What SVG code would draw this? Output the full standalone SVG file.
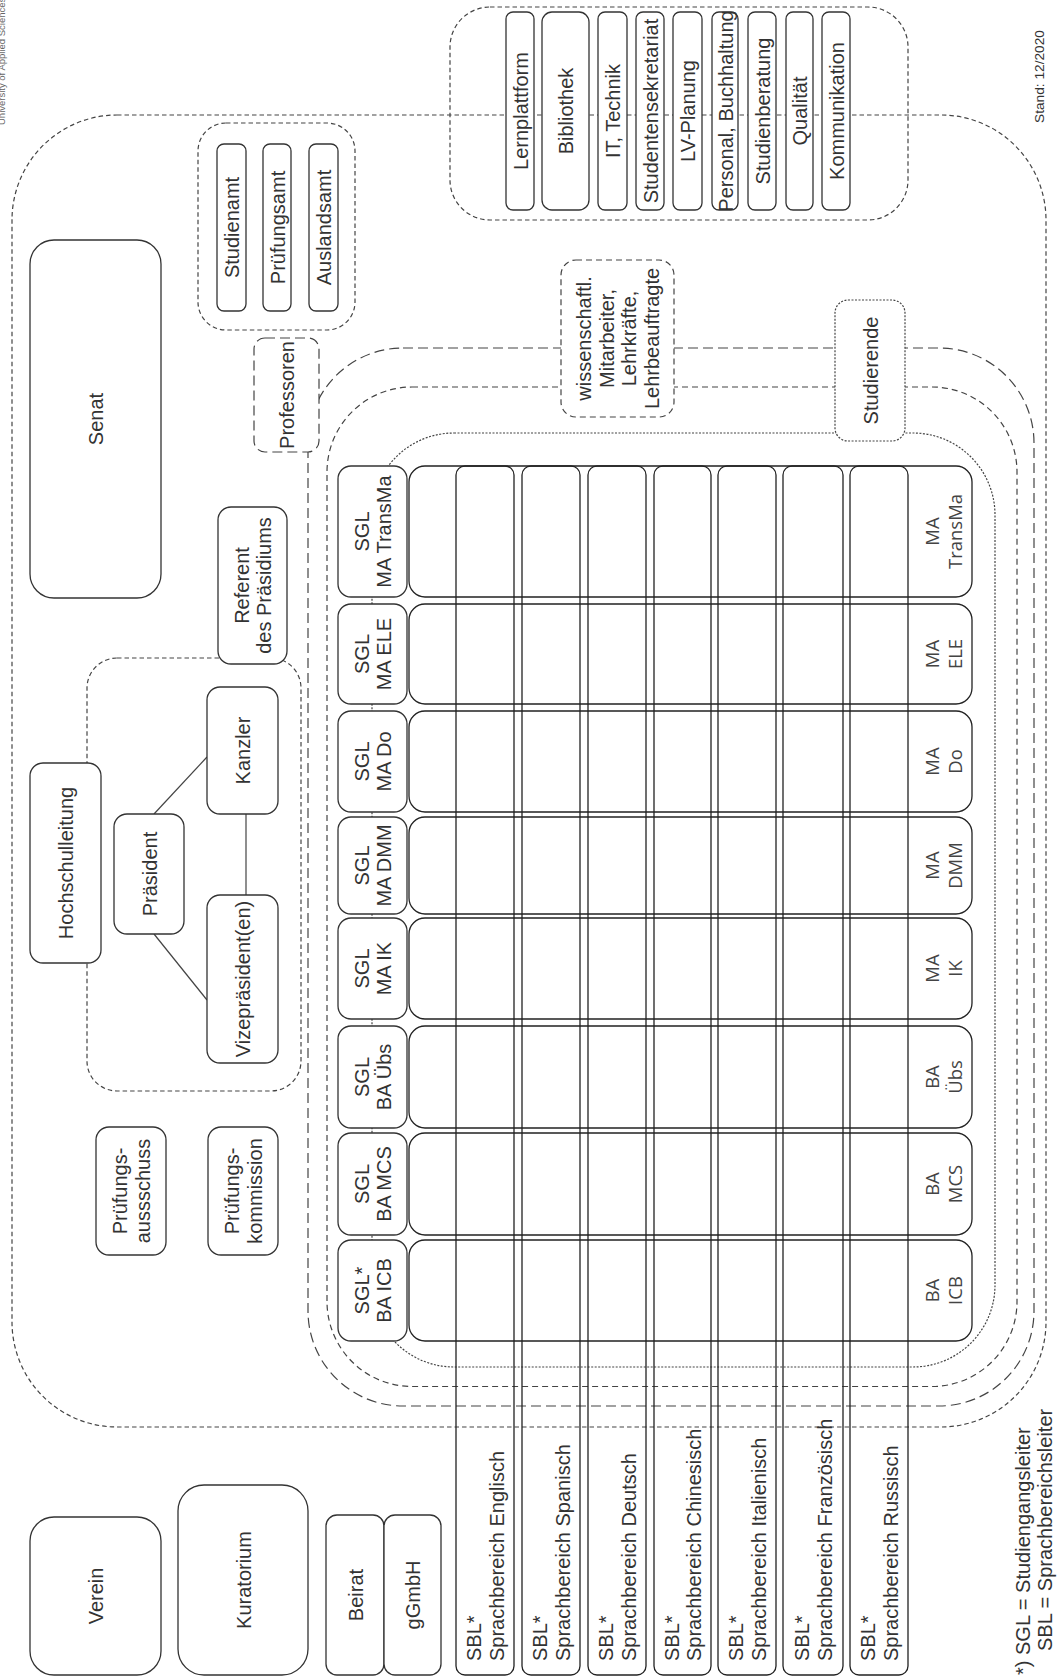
<svg xmlns="http://www.w3.org/2000/svg" width="1057" height="1677" viewBox="0 0 1057 1677">
<defs>
<style>
.box{fill:#fff;stroke:#333;stroke-width:1.3}
.grid{fill:none;stroke:#222;stroke-width:1.3}
.cont{fill:none;stroke:#444;stroke-width:1.2}
.d1{stroke-dasharray:4.5 3}
.d2{stroke-dasharray:10 5}
.d3{stroke-dasharray:6 4}
.d4{stroke-dasharray:2 1.5}
.wf{fill:#fff}
.ln{stroke:#444;stroke-width:1.2;fill:none}
text{font-family:"Liberation Sans",Arial,sans-serif;font-size:20px;fill:#333}
text.c{text-anchor:middle}
text.p{font-family:"Open Sans","DejaVu Sans",sans-serif;font-size:18.5px;fill:#444;text-anchor:middle}
text.s{font-size:13.7px}
</style>
</defs>
<rect width="1057" height="1677" fill="#fff"/>

<text transform="translate(5,125) rotate(-90)" style="fill:#666;font-size:9.5px">University of Applied Sciences</text>

<g id="containers">
<rect id="hochschule" class="cont d1" x="12" y="115" width="1034" height="1312" rx="105"/>
<rect id="services-group" class="cont d1" x="450" y="7" width="458" height="213" rx="40"/>
<rect id="professoren-group" class="cont d2" x="308" y="348" width="726" height="1058" rx="95"/>
<rect id="mitarbeiter-group" class="cont d3" x="327" y="387" width="690" height="999.5" rx="85"/>
<rect id="studierende-group" class="cont d4" x="372" y="433" width="623" height="934" rx="82"/>
<rect id="praesidium" class="cont d1" x="87" y="658" width="214" height="433" rx="30"/>
<rect id="aemter-group" class="cont d1" x="198" y="123" width="157" height="207" rx="28"/>
</g>

<g id="connectors">
<line class="ln" x1="154" y1="814" x2="207" y2="757"/>
<line class="ln" x1="246" y1="814" x2="246" y2="895"/>
<line class="ln" x1="154" y1="934" x2="207" y2="1000"/>
</g>

<g id="program-rows">
<rect class="grid" x="409" y="466" width="563" height="131" rx="16"/>
<rect class="grid" x="409" y="604" width="563" height="100" rx="16"/>
<rect class="grid" x="409" y="711" width="563" height="101" rx="16"/>
<rect class="grid" x="409" y="817" width="563" height="97" rx="16"/>
<rect class="grid" x="409" y="918" width="563" height="101" rx="16"/>
<rect class="grid" x="409" y="1026" width="563" height="102" rx="16"/>
<rect class="grid" x="409" y="1133" width="563" height="102" rx="16"/>
<rect class="grid" x="409" y="1240" width="563" height="101" rx="16"/>
<text class="p" transform="translate(939,531.5) rotate(-90)"><tspan x="0" y="0">MA</tspan><tspan x="0" y="23">TransMa</tspan></text>
<text class="p" transform="translate(939,654) rotate(-90)"><tspan x="0" y="0">MA</tspan><tspan x="0" y="23">ELE</tspan></text>
<text class="p" transform="translate(939,761.5) rotate(-90)"><tspan x="0" y="0">MA</tspan><tspan x="0" y="23">Do</tspan></text>
<text class="p" transform="translate(939,865.5) rotate(-90)"><tspan x="0" y="0">MA</tspan><tspan x="0" y="23">DMM</tspan></text>
<text class="p" transform="translate(939,968.5) rotate(-90)"><tspan x="0" y="0">MA</tspan><tspan x="0" y="23">IK</tspan></text>
<text class="p" transform="translate(939,1077) rotate(-90)"><tspan x="0" y="0">BA</tspan><tspan x="0" y="23">Übs</tspan></text>
<text class="p" transform="translate(939,1184) rotate(-90)"><tspan x="0" y="0">BA</tspan><tspan x="0" y="23">MCS</tspan></text>
<text class="p" transform="translate(939,1290.5) rotate(-90)"><tspan x="0" y="0">BA</tspan><tspan x="0" y="23">ICB</tspan></text>
</g>

<g id="sprachbereiche">
<rect class="grid" x="456" y="466" width="58" height="1209" rx="9"/>
<rect class="grid" x="522" y="466" width="58" height="1209" rx="9"/>
<rect class="grid" x="588" y="466" width="58" height="1209" rx="9"/>
<rect class="grid" x="654" y="466" width="57" height="1209" rx="9"/>
<rect class="grid" x="718" y="466" width="58" height="1209" rx="9"/>
<rect class="grid" x="783" y="466" width="60" height="1209" rx="9"/>
<rect class="grid" x="850" y="466" width="58" height="1209" rx="9"/>
<text transform="translate(481.25,1661) rotate(-90)"><tspan x="0" y="0">SBL*</tspan><tspan x="0" y="22.5">Sprachbereich Englisch</tspan></text>
<text transform="translate(547.25,1661) rotate(-90)"><tspan x="0" y="0">SBL*</tspan><tspan x="0" y="22.5">Sprachbereich Spanisch</tspan></text>
<text transform="translate(613.25,1661) rotate(-90)"><tspan x="0" y="0">SBL*</tspan><tspan x="0" y="22.5">Sprachbereich Deutsch</tspan></text>
<text transform="translate(678.75,1661) rotate(-90)"><tspan x="0" y="0">SBL*</tspan><tspan x="0" y="22.5">Sprachbereich Chinesisch</tspan></text>
<text transform="translate(743.25,1661) rotate(-90)"><tspan x="0" y="0">SBL*</tspan><tspan x="0" y="22.5">Sprachbereich Italienisch</tspan></text>
<text transform="translate(809.25,1661) rotate(-90)"><tspan x="0" y="0">SBL*</tspan><tspan x="0" y="22.5">Sprachbereich Französisch</tspan></text>
<text transform="translate(875.25,1661) rotate(-90)"><tspan x="0" y="0">SBL*</tspan><tspan x="0" y="22.5">Sprachbereich Russisch</tspan></text>
</g>

<g id="sgl-headers">
<g id="sgl-transma"><rect class="box" x="338" y="466" width="69" height="131" rx="13"/><text class="c" transform="translate(368.75,531.5) rotate(-90)"><tspan x="0" y="0">SGL</tspan><tspan x="0" y="22.5">MA TransMa</tspan></text></g>
<g id="sgl-ele"><rect class="box" x="338" y="604" width="69" height="100" rx="13"/><text class="c" transform="translate(368.75,654) rotate(-90)"><tspan x="0" y="0">SGL</tspan><tspan x="0" y="22.5">MA ELE</tspan></text></g>
<g id="sgl-do"><rect class="box" x="338" y="711" width="69" height="101" rx="13"/><text class="c" transform="translate(368.75,761.5) rotate(-90)"><tspan x="0" y="0">SGL</tspan><tspan x="0" y="22.5">MA Do</tspan></text></g>
<g id="sgl-dmm"><rect class="box" x="338" y="817" width="69" height="97" rx="13"/><text class="c" transform="translate(368.75,865.5) rotate(-90)"><tspan x="0" y="0">SGL</tspan><tspan x="0" y="22.5">MA DMM</tspan></text></g>
<g id="sgl-ik"><rect class="box" x="338" y="918" width="69" height="101" rx="13"/><text class="c" transform="translate(368.75,968.5) rotate(-90)"><tspan x="0" y="0">SGL</tspan><tspan x="0" y="22.5">MA IK</tspan></text></g>
<g id="sgl-uebs"><rect class="box" x="338" y="1026" width="69" height="102" rx="13"/><text class="c" transform="translate(368.75,1077) rotate(-90)"><tspan x="0" y="0">SGL</tspan><tspan x="0" y="22.5">BA Übs</tspan></text></g>
<g id="sgl-mcs"><rect class="box" x="338" y="1133" width="69" height="102" rx="13"/><text class="c" transform="translate(368.75,1184) rotate(-90)"><tspan x="0" y="0">SGL</tspan><tspan x="0" y="22.5">BA MCS</tspan></text></g>
<g id="sgl-icb"><rect class="box" x="338" y="1240" width="69" height="101" rx="13"/><text class="c" transform="translate(368.75,1290.5) rotate(-90)"><tspan x="0" y="0">SGL*</tspan><tspan x="0" y="22.5">BA ICB</tspan></text></g>
</g>

<g id="senat"><rect class="box" x="30" y="240" width="131" height="358" rx="24"/><text class="c" transform="translate(103,419) rotate(-90)">Senat</text></g>
<g id="hochschulleitung"><rect class="box" x="30" y="763" width="71" height="200" rx="13"/><text class="c" transform="translate(73,863) rotate(-90)">Hochschulleitung</text></g>
<g id="praesident"><rect class="box" x="114" y="814" width="70" height="120" rx="13"/><text class="c" transform="translate(156.5,874) rotate(-90)">Präsident</text></g>
<g id="kanzler"><rect class="box" x="207" y="687" width="71" height="127" rx="13"/><text class="c" transform="translate(250,750.5) rotate(-90)">Kanzler</text></g>
<g id="vizepraesident"><rect class="box" x="207" y="895" width="71" height="168" rx="13"/><text class="c" transform="translate(250,979) rotate(-90)">Vizepräsident(en)</text></g>
<g id="referent"><rect class="box" x="218" y="507" width="69" height="157" rx="13"/><text class="c" transform="translate(248.75,585.5) rotate(-90)"><tspan x="0" y="0">Referent</tspan><tspan x="0" y="22.5">des Präsidiums</tspan></text></g>
<g id="pruefungsausschuss"><rect class="box" x="96" y="1127" width="70" height="128" rx="13"/><text class="c" transform="translate(127.25,1191) rotate(-90)"><tspan x="0" y="0">Prüfungs-</tspan><tspan x="0" y="22.5">aussschuss</tspan></text></g>
<g id="pruefungskommission"><rect class="box" x="208" y="1127" width="70" height="128" rx="13"/><text class="c" transform="translate(239.25,1191) rotate(-90)"><tspan x="0" y="0">Prüfungs-</tspan><tspan x="0" y="22.5">kommission</tspan></text></g>

<g id="studienamt"><rect class="box" x="217" y="144" width="29" height="167" rx="7"/><text class="c" transform="translate(239,227.5) rotate(-90)">Studienamt</text></g>
<g id="pruefungsamt"><rect class="box" x="263" y="144" width="28" height="167" rx="7"/><text class="c" transform="translate(284.5,227.5) rotate(-90)">Prüfungsamt</text></g>
<g id="auslandsamt"><rect class="box" x="309" y="144" width="29" height="167" rx="7"/><text class="c" transform="translate(331,227.5) rotate(-90)">Auslandsamt</text></g>

<g id="professoren"><rect class="cont d2 wf" x="254" y="338" width="65" height="114" rx="11"/><text class="c" transform="translate(294,395) rotate(-90)">Professoren</text></g>
<g id="mitarbeiter"><rect class="cont d3 wf" x="561" y="260" width="113" height="157" rx="15"/><text class="c" transform="translate(591.25,338.5) rotate(-90)"><tspan x="0" y="0">wissenschaftl.</tspan><tspan x="0" y="22.5">Mitarbeiter,</tspan><tspan x="0" y="45">Lehrkräfte,</tspan><tspan x="0" y="67.5">Lehrbeauftragte</tspan></text></g>
<g id="studierende"><rect class="cont d4 wf" x="835" y="300" width="70" height="141" rx="13"/><text class="c" transform="translate(877.5,370.5) rotate(-90)">Studierende</text></g>

<g id="services">
<g id="lernplattform"><rect class="box" x="506" y="12" width="28" height="198" rx="7"/><text class="c" transform="translate(527.5,111) rotate(-90)">Lernplattform</text></g>
<g id="bibliothek"><rect class="box" x="542" y="12" width="47" height="198" rx="10"/><text class="c" transform="translate(573,111) rotate(-90)">Bibliothek</text></g>
<g id="it"><rect class="box" x="598" y="12" width="29" height="198" rx="7"/><text class="c" transform="translate(620,111) rotate(-90)">IT, Technik</text></g>
<g id="studentensekretariat"><rect class="box" x="636" y="12" width="28" height="198" rx="7"/><text class="c" transform="translate(657.5,111) rotate(-90)">Studentensekretariat</text></g>
<g id="lv-planung"><rect class="box" x="673" y="12" width="29" height="198" rx="7"/><text class="c" transform="translate(695,111) rotate(-90)">LV-Planung</text></g>
<g id="personal"><rect class="box" x="712" y="12" width="26" height="198" rx="7"/><text class="c" transform="translate(732.5,111) rotate(-90)">Personal, Buchhaltung</text></g>
<g id="studienberatung"><rect class="box" x="748" y="12" width="28" height="198" rx="7"/><text class="c" transform="translate(769.5,111) rotate(-90)">Studienberatung</text></g>
<g id="qualitaet"><rect class="box" x="786" y="12" width="27" height="198" rx="7"/><text class="c" transform="translate(807,111) rotate(-90)">Qualität</text></g>
<g id="kommunikation"><rect class="box" x="822" y="12" width="28" height="198" rx="7"/><text class="c" transform="translate(843.5,111) rotate(-90)">Kommunikation</text></g>
</g>

<g id="verein"><rect class="box" x="30" y="1517" width="131" height="158" rx="24"/><text class="c" transform="translate(103,1596) rotate(-90)">Verein</text></g>
<g id="kuratorium"><rect class="box" x="178" y="1485" width="130" height="190" rx="26"/><text class="c" transform="translate(250.5,1580) rotate(-90)">Kuratorium</text></g>
<g id="beirat"><rect class="box" x="326" y="1515" width="58" height="160" rx="11"/><text class="c" transform="translate(362.5,1595) rotate(-90)">Beirat</text></g>
<g id="ggmbh"><rect class="box" x="384" y="1515" width="57" height="160" rx="11"/><text class="c" transform="translate(420,1595) rotate(-90)">gGmbH</text></g>

<text class="s c" transform="translate(1044,76.5) rotate(-90)">Stand: 12/2020</text>
<text transform="translate(1030,1675) rotate(-90)"><tspan x="0" y="0">*) SGL = Studiengangsleiter</tspan><tspan x="24" y="22">SBL = Sprachbereichsleiter</tspan></text>
</svg>
